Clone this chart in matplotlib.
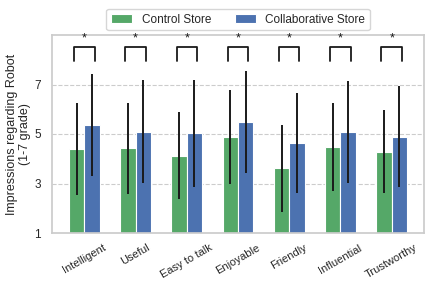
import matplotlib
matplotlib.use("Agg")
import matplotlib.pyplot as plt
import numpy as np
import seaborn as sns

categories = ["Intelligent", "Useful", "Easy to talk", "Enjoyable", "Friendly", "Influential", "Trustworthy"]
control_mean = [4.40, 4.42, 4.13, 4.89, 3.61, 4.46, 4.29]
control_sd = [1.87, 1.85, 1.77, 1.90, 1.77, 1.78, 1.69]
collab_mean = [5.36, 5.09, 5.03, 5.48, 4.63, 5.07, 4.89]
collab_sd = [2.07, 2.08, 2.16, 2.05, 2.03, 2.06, 2.03]
significance = ["*", "*", "*", "*", "*", "*", "*"]

sns.set_theme(style="whitegrid")
plt.rcParams['font.family'] = ['Liberation Sans', 'DejaVu Sans']

fig = plt.figure(figsize=(4.36, 2.91), dpi=100)
ax = fig.add_axes([52/436, 1 - 233/291, (424 - 52)/436, (233 - 35)/291])

x = np.arange(len(categories))
w = 0.3
green = "#55a868"
blue = "#4c72b0"
ax.bar(x - w/2, control_mean, w, color=green, edgecolor="white", linewidth=0.8,
       label="Control Store", zorder=2)
ax.bar(x + w/2, collab_mean, w, color=blue, edgecolor="white", linewidth=0.8,
       label="Collaborative Store", zorder=2)
ax.errorbar(x - w/2, control_mean, yerr=control_sd, fmt="none", ecolor="#1a1a1a", elinewidth=1.4, capsize=0, zorder=3)
ax.errorbar(x + w/2, collab_mean, yerr=collab_sd, fmt="none", ecolor="#1a1a1a", elinewidth=1.4, capsize=0, zorder=3)

for i, s in enumerate(significance):
    ax.plot([i - 0.2, i - 0.2, i + 0.2, i + 0.2], [7.95, 8.5, 8.5, 7.95], color="#1a1a1a", lw=1.3, zorder=3)
    ax.text(i, 8.6, s, ha="center", va="bottom", fontsize=9, color="#1a1a1a")

ax.set_ylim(1, 9)
ax.set_xlim(-0.63, 6.63)
ax.set_yticks([1, 3, 5, 7])
ax.set_xticks(x)
ax.set_xticklabels(categories, rotation=30, fontsize=8)
ax.tick_params(axis="y", labelsize=8.5, pad=2)
ax.tick_params(axis="x", pad=1)
ax.set_ylabel("Impressions regarding Robot\n(1-7 grade)", fontsize=9, labelpad=2)
ax.grid(axis="y", linestyle="--", color="#cccccc", linewidth=0.8)
ax.grid(axis="x", visible=False)
for sp in ax.spines.values():
    sp.set_color("#cccccc")

ax.legend(loc="lower center", bbox_to_anchor=(0.5, 1.0), ncol=2, fontsize=8.5, frameon=True,
          handlelength=1.8, handletextpad=0.8, columnspacing=2.0, borderaxespad=0.4)

fig.savefig("out.png", dpi=100)
